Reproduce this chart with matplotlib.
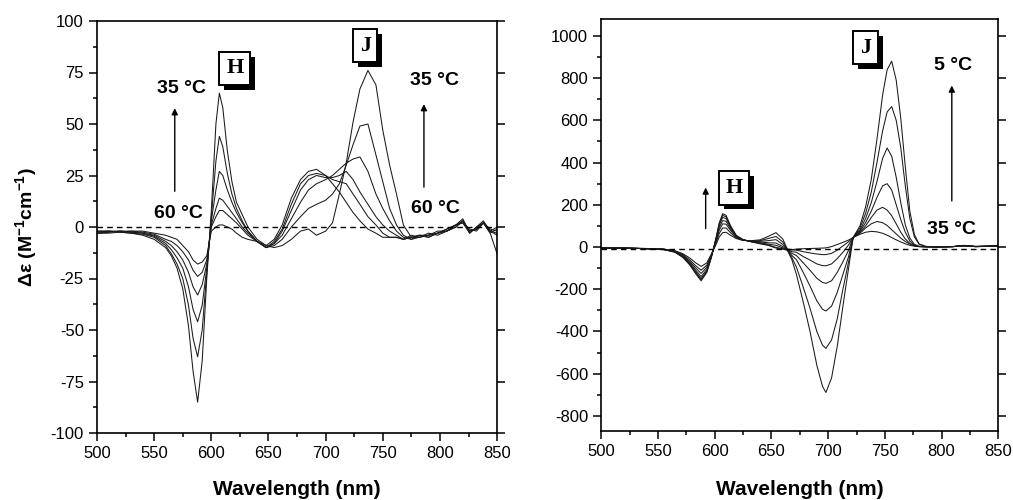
import matplotlib
matplotlib.use("Agg")
import matplotlib.pyplot as plt
import matplotlib.patheffects as pe
from matplotlib.ticker import MultipleLocator

plt.rcParams['font.family'] = ['Liberation Sans', 'DejaVu Sans']
plt.rcParams['axes.unicode_minus'] = False
plt.rcParams['mathtext.fontset'] = 'custom'
plt.rcParams['mathtext.rm'] = 'Liberation Sans:bold'
plt.rcParams['mathtext.it'] = 'Liberation Sans:bold'
plt.rcParams['mathtext.bf'] = 'Liberation Sans:bold'
plt.rcParams['mathtext.default'] = 'rm'

# ---- left panel: 35 C ... 60 C ----
wl_L = [500, 510, 520, 530, 540, 550, 560, 565, 570, 575, 580, 584, 588, 592, 596, 600, 604, 607, 610, 614,
        618, 622, 627, 632, 640, 648, 655, 662, 670, 678, 685, 692, 700, 706, 712, 718, 724, 730, 737, 744,
        750, 756, 762, 768, 775, 782, 790, 798, 806, 814, 820, 826, 832, 838, 844, 850]

L_35 = [-2, -2, -2.5, -3, -4, -6, -10, -14, -20, -30, -48, -70, -85, -65, -25, 8, 50, 65, 58, 37,
        22, 12, 6, 0, -6, -9, -10, -9, -6, -2, -1, -4, -2, 2, 16, 31, 51, 67, 76, 69,
        47, 30, 16, 1, -5, -4, -5, -3, -2, 1, 3, -2, -1, 2, -3, -13]
L_40 = [-2, -2, -2.5, -3, -3.5, -5, -9, -13, -18, -25, -38, -54, -63, -50, -22, 5, 32, 44, 39, 26,
        16, 9, 3, -2, -7, -10, -9, -6, 0, 5, 9, 11, 13, 16, 21, 30, 40, 49, 50, 35,
        22, 9, 1, -4, -6, -4, -4, -3, -1, 1, 4, -3, 0, 3, -2, -4]
L_45 = [-2.5, -2, -2, -2.5, -3, -4.5, -8, -11, -15, -20, -29, -40, -46, -38, -20, 3, 18, 27, 25, 18,
        12, 7, 2, -2, -7, -10, -8, -4, 4, 12, 18, 21, 23, 25, 28, 31, 33, 34, 27, 16,
        9, 3, -2, -5, -6, -5, -3, -4, -2, 0, 3, -2, -1, 2, -2, -3]
L_50 = [-3, -2.5, -2, -2.5, -3, -4, -7, -9, -12, -16, -22, -29, -33, -28, -18, 1, 9, 14, 13, 10,
        7, 4, 0, -3, -7, -10, -8, -2, 8, 18, 23, 25, 24, 24, 25, 27, 23, 17, 11, 5,
        1, -2, -4, -6, -5, -4, -5, -3, -1, 1, 2, -3, 0, 2, -1, -2]
L_55 = [-3, -2.5, -2, -2, -2.5, -3.5, -6, -7, -9, -12, -16, -21, -24, -22, -16, 0, 5, 8, 8, 6,
        4, 2, -1, -4, -7, -10, -7, -1, 11, 21, 25, 26, 25, 23, 22, 21, 16, 11, 5, 1,
        -3, -5, -5, -6, -5, -5, -4, -3, -2, 0, 3, -2, -1, 2, -3, -1]
L_60 = [-3, -3, -2.5, -2, -2, -3, -4, -5, -6, -9, -12, -16, -18, -17, -14, -2, 0, 1, 1, 0,
        -1, -3, -5, -6, -7, -9, -6, 1, 14, 23, 27, 28, 25, 21, 17, 12, 7, 3, -1, -3,
        -5, -5, -5, -6, -4, -5, -4, -2, -2, 1, 2, -1, -2, 2, -2, 0]

# ---- right panel: 5 C ... 35 C ----
wl_R = [500, 520, 540, 555, 565, 572, 578, 583, 588, 593, 597, 601, 604, 607, 610, 614, 619, 625, 632, 640,
        647, 654, 660, 664, 668, 672, 678, 684, 690, 695, 698, 703, 708, 713, 718, 722, 728, 733, 738, 743,
        748, 752, 756, 760, 764, 768, 772, 776, 780, 786, 795, 810, 820, 830, 840, 850]

R_05 = [-5, -5, -8, -12, -25, -50, -85, -125, -160, -120, -50, 40, 115, 158, 150, 100, 55, 35, 25, 15,
        8, -5, -10, -15, -60, -130, -260, -400, -560, -660, -689, -620, -470, -280, -100, 45, 100, 190, 320, 510,
        720, 840, 880, 790, 610, 380, 170, 60, 15, 3, 0, 2, 8, 3, 5, 8]
R_10 = [-5, -5, -8, -12, -24, -48, -82, -120, -155, -117, -48, 38, 110, 150, 143, 96, 53, 34, 25, 18,
        10, -2, -8, -14, -50, -95, -190, -290, -400, -465, -480, -440, -340, -200, -70, 45, 90, 160, 260, 400,
        550, 640, 665, 600, 470, 290, 135, 48, 14, 3, 0, 2, 7, 3, 4, 6]
R_15 = [-5, -5, -8, -12, -23, -46, -79, -116, -150, -113, -46, 35, 104, 140, 135, 92, 52, 34, 26, 20,
        14, 8, -4, -13, -40, -60, -120, -185, -255, -295, -303, -280, -215, -130, -45, 45, 80, 135, 210, 310,
        420, 469, 430, 330, 210, 105, 42, 13, 4, 2, 0, 2, 7, 2, 4, 6]
R_20 = [-5, -5, -8, -11, -22, -43, -74, -108, -140, -106, -44, 30, 93, 125, 122, 85, 50, 34, 27, 24,
        20, 19, 2, -12, -30, -40, -75, -110, -148, -168, -172, -160, -120, -70, -15, 45, 75, 115, 170, 235,
        290, 300, 270, 200, 130, 70, 28, 9, 3, 1, 0, 2, 6, 2, 3, 5]
R_25 = [-5, -5, -8, -11, -21, -40, -68, -98, -125, -96, -40, 25, 80, 110, 108, 78, 47, 33, 28, 27,
        30, 35, 12, -11, -22, -25, -45, -62, -80, -88, -89, -80, -55, -25, 10, 45, 70, 100, 140, 175,
        188, 175, 148, 110, 70, 38, 17, 6, 2, 1, 0, 2, 6, 2, 3, 5]
R_30 = [-5, -5, -7, -10, -19, -36, -61, -88, -110, -86, -37, 18, 65, 90, 90, 67, 43, 32, 29, 30,
        40, 50, 24, -11, -14, -15, -22, -28, -33, -36, -36, -30, -15, 5, 25, 45, 65, 90, 110, 121,
        115, 102, 82, 62, 42, 26, 14, 6, 2, 1, 0, 2, 5, 2, 3, 4]
R_35 = [-5, -5, -7, -10, -18, -32, -52, -74, -92, -75, -33, 10, 48, 68, 70, 55, 40, 31, 30, 34,
        50, 68, 38, -10, -12, -10, -8, -7, -6, -5, -4, 2, 12, 22, 33, 45, 60, 70, 74, 72,
        65, 56, 45, 34, 24, 15, 8, 4, 2, 1, 0, 2, 5, 2, 3, 4]

LINE = '#1a1a1a'


def boxed_label(ax, x, y, s):
    t = ax.text(x, y, s, ha='center', va='center', fontsize=16, fontweight='bold',
                family=['Liberation Serif', 'DejaVu Serif'],
                bbox=dict(boxstyle='square,pad=0.3', fc='white', ec='black', lw=1.4))
    t.get_bbox_patch().set_path_effects([
        pe.SimplePatchShadow(offset=(3.5, -3.5), shadow_rgbFace='black', alpha=1.0),
        pe.Normal()])


def temp_arrow(ax, x, y0, y1):
    ax.annotate('', xy=(x, y1), xytext=(x, y0),
                arrowprops=dict(arrowstyle='-|>', color='black', lw=1.0, mutation_scale=9))


def style_axes(ax, ymajor, yminor):
    ax.set_xlim(500, 850)
    ax.xaxis.set_major_locator(MultipleLocator(50))
    ax.xaxis.set_minor_locator(MultipleLocator(25))
    ax.yaxis.set_major_locator(MultipleLocator(ymajor))
    ax.yaxis.set_minor_locator(MultipleLocator(yminor))
    ax.tick_params(which='both', direction='out', top=False, labelsize=12, width=1.1)
    ax.tick_params(which='major', length=6, right=True)
    ax.tick_params(which='minor', length=3, right=False)
    for sp in ax.spines.values():
        sp.set_linewidth(1.2)
    ax.set_xlabel('Wavelength (nm)', fontsize=15, fontweight='bold')


fig = plt.figure(figsize=(10.13, 5.0), dpi=100)
ax1 = fig.add_axes([0.0958, 0.134, 0.3949, 0.824])
ax2 = fig.add_axes([0.5936, 0.1386, 0.3919, 0.8234])

# left panel
for ys in [L_35, L_40, L_45, L_50, L_55, L_60]:
    ax1.plot(wl_L, ys, color=LINE, lw=0.75)
ax1.axhline(0, color='black', lw=1.0, ls=(0, (4, 3)))
ax1.set_ylim(-100, 100)
style_axes(ax1, 25, 12.5)
ax1.set_ylabel('Δε (M$^{-1}$cm$^{-1}$)', fontsize=14, fontweight='bold')
ax1.yaxis.set_label_coords(-0.145, 0.5)
ax1.xaxis.set_label_coords(0.5, -0.115)

ax1.text(573.5, 67, '35 °C', ha='center', va='center', fontsize=14, fontweight='bold')
ax1.text(571.5, 6.5, '60 °C', ha='center', va='center', fontsize=14, fontweight='bold')
temp_arrow(ax1, 568, 16, 59)
ax1.text(795.5, 71, '35 °C', ha='center', va='center', fontsize=14, fontweight='bold')
ax1.text(796.5, 9, '60 °C', ha='center', va='center', fontsize=14, fontweight='bold')
temp_arrow(ax1, 786, 18, 61)
boxed_label(ax1, 620.5, 77, 'H')
boxed_label(ax1, 734.5, 88, 'J')

# right panel
for ys in [R_05, R_10, R_15, R_20, R_25, R_30, R_35]:
    ax2.plot(wl_R, ys, color=LINE, lw=0.75)
ax2.axhline(-8, color='black', lw=1.0, ls=(0, (4, 3)))
ax2.set_ylim(-870, 1080)
style_axes(ax2, 200, 100)
ax2.xaxis.set_label_coords(0.5, -0.12)

ax2.text(810.5, 862, '5 °C', ha='center', va='center', fontsize=14, fontweight='bold')
ax2.text(809, 82, '35 °C', ha='center', va='center', fontsize=14, fontweight='bold')
temp_arrow(ax2, 809, 205, 778)
temp_arrow(ax2, 592, 74, 295)
boxed_label(ax2, 617, 280, 'H')
boxed_label(ax2, 733, 945, 'J')

fig.savefig('out.png', dpi=100)
